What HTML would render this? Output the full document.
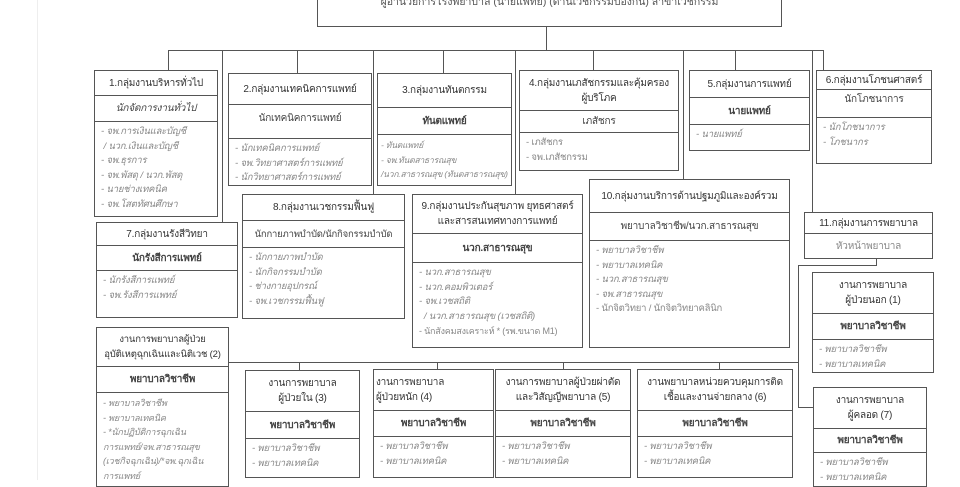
<!DOCTYPE html>
<html><head><meta charset="utf-8">
<style>
*{margin:0;padding:0;box-sizing:border-box}
body{width:960px;height:480px;overflow:hidden;background:#fff;position:relative;font-family:"Liberation Sans","DejaVu Sans",sans-serif;color:#333;font-size:10px}
.b{position:absolute;border:1.3px solid #555;background:#fff;overflow:hidden}
.h,.s{border-bottom:1.2px solid #555;display:flex;align-items:center;justify-content:center;text-align:center;line-height:15px;padding:0 2px;white-space:nowrap;letter-spacing:-0.2px;font-size:10px}
.s{font-weight:bold;color:#444}
.l{padding:3px 6px;line-height:14.5px;color:#888;font-style:italic;font-size:9.5px;white-space:nowrap;letter-spacing:-0.2px}
.v{position:absolute;width:1.2px;background:#555}
.hz{position:absolute;height:1.2px;background:#555}
</style></head><body>
<div style="position:absolute;left:37px;top:0;width:1px;height:480px;background:#eee"></div>

<div class="b" style="left:317px;top:-30px;width:465px;height:57px;">
<div style="position:absolute;top:22px;left:0;right:0;text-align:center;color:#555;font-size:10.5px">ผู้อำนวยการโรงพยาบาล (นายแพทย์) (ด้านเวชกรรมป้องกัน) สาขาเวชกรรม</div></div>

<div class="v" style="left:546px;top:27px;height:23px"></div>
<div class="hz" style="left:168px;top:50px;width:656px"></div>
<div class="v" style="left:168px;top:50px;height:20px"></div>
<div class="v" style="left:222px;top:50px;height:172px"></div>
<div class="v" style="left:297px;top:50px;height:23px"></div>
<div class="v" style="left:373px;top:50px;height:144px"></div>
<div class="v" style="left:443px;top:50px;height:23px"></div>
<div class="v" style="left:515px;top:50px;height:144px"></div>
<div class="v" style="left:593px;top:50px;height:20px"></div>
<div class="v" style="left:683px;top:50px;height:129px"></div>
<div class="v" style="left:735px;top:50px;height:20px"></div>
<div class="v" style="left:812px;top:50px;height:162px"></div>
<div class="v" style="left:823px;top:50px;height:20px"></div>

<div class="v" style="left:876px;top:258px;height:8px"></div>
<div class="hz" style="left:798px;top:265px;width:79px"></div>
<div class="v" style="left:798px;top:265px;height:143px"></div>
<div class="hz" style="left:798px;top:407px;width:15px"></div>
<div class="hz" style="left:229px;top:362px;width:570px"></div>
<div class="v" style="left:299px;top:362px;height:8px"></div>
<div class="v" style="left:437px;top:362px;height:8px"></div>
<div class="v" style="left:563px;top:362px;height:8px"></div>
<div class="v" style="left:719px;top:362px;height:8px"></div>

<div class="b" style="left:94px;top:70px;width:124px;height:147px">
<div class="h" style="height:25px">1.กลุ่มงานบริหารทั่วไป</div>
<div class="s" style="height:26px;font-style:italic;font-weight:normal">นักจัดการงานทั่วไป</div>
<div class="l">- จพ.การเงินและบัญชี<br>&nbsp;/ นวก.เงินและบัญชี<br>- จพ.ธุรการ<br>- จพ.พัสดุ / นวก.พัสดุ<br>- นายช่างเทคนิค<br>- จพ.โสตทัศนศึกษา</div></div>

<div class="b" style="left:228px;top:73px;width:144px;height:113px">
<div class="h" style="height:31px">2.กลุ่มงานเทคนิคการแพทย์</div>
<div class="s" style="height:34px;font-weight:normal;align-items:flex-start;padding-top:6px">นักเทคนิคการแพทย์</div>
<div class="l">- นักเทคนิคการแพทย์<br>- จพ.วิทยาศาสตร์การแพทย์<br>- นักวิทยาศาสตร์การแพทย์</div></div>

<div class="b" style="left:377px;top:73px;width:135px;height:113px">
<div class="h" style="height:34px">3.กลุ่มงานทันตกรรม</div>
<div class="s" style="height:27px">ทันตแพทย์</div>
<div class="l" style="font-size:8.5px;padding:3px 3px">- ทันตแพทย์<br>- จพ.ทันตสาธารณสุข<br>/นวก.สาธารณสุข (ทันตสาธารณสุข)</div></div>

<div class="b" style="left:519px;top:70px;width:160px;height:101px">
<div class="h" style="height:40px">4.กลุ่มงานเภสัชกรรมและคุ้มครอง<br>ผู้บริโภค</div>
<div class="s" style="height:22px;font-weight:normal">เภสัชกร</div>
<div class="l" style="font-style:normal">- เภสัชกร<br>- จพ.เภสัชกรรม</div></div>

<div class="b" style="left:689px;top:70px;width:121px;height:81px">
<div class="h" style="height:27px">5.กลุ่มงานการแพทย์</div>
<div class="s" style="height:27px">นายแพทย์</div>
<div class="l">- นายแพทย์</div></div>

<div class="b" style="left:816px;top:70px;width:116px;height:94px">
<div class="h" style="height:19px">6.กลุ่มงานโภชนศาสตร์</div>
<div class="s" style="height:28px;font-weight:normal;align-items:flex-start;padding-top:2px">นักโภชนาการ</div>
<div class="l">- นักโภชนาการ<br>- โภชนากร</div></div>

<div class="b" style="left:96px;top:222px;width:142px;height:96px">
<div class="h" style="height:23px">7.กลุ่มงานรังสีวิทยา</div>
<div class="s" style="height:25px">นักรังสีการแพทย์</div>
<div class="l">- นักรังสีการแพทย์<br>- จพ.รังสีการแพทย์</div></div>

<div class="b" style="left:242px;top:194px;width:163px;height:125px">
<div class="h" style="height:26px">8.กลุ่มงานเวชกรรมฟื้นฟู</div>
<div class="s" style="height:27px;font-weight:normal;font-size:9.5px">นักกายภาพบำบัด/นักกิจกรรมบำบัด</div>
<div class="l">- นักกายภาพบำบัด<br>- นักกิจกรรมบำบัด<br>- ช่างกายอุปกรณ์<br>- จพ.เวชกรรมฟื้นฟู</div></div>

<div class="b" style="left:412px;top:194px;width:171px;height:154px">
<div class="h" style="height:39px">9.กลุ่มงานประกันสุขภาพ ยุทธศาสตร์<br>และสารสนเทศทางการแพทย์</div>
<div class="s" style="height:29px">นวก.สาธารณสุข</div>
<div class="l">- นวก.สาธารณสุข<br>- นวก.คอมพิวเตอร์<br>- จพ.เวชสถิติ<br>&nbsp;&nbsp;/ นวก.สาธารณสุข (เวชสถิติ)<br><span style="font-style:normal;font-size:9px">- นักสังคมสงเคราะห์ * (รพ.ขนาด M1)</span></div></div>

<div class="b" style="left:589px;top:179px;width:201px;height:169px">
<div class="h" style="height:33px">10.กลุ่มงานบริการด้านปฐมภูมิและองค์รวม</div>
<div class="s" style="height:28px;font-weight:normal">พยาบาลวิชาชีพ/นวก.สาธารณสุข</div>
<div class="l">- พยาบาลวิชาชีพ<br>- พยาบาลเทคนิค<br>- นวก.สาธารณสุข<br>- จพ.สาธารณสุข<br><span style="font-style:normal">- นักจิตวิทยา / นักจิตวิทยาคลินิก</span></div></div>

<div class="b" style="left:804px;top:212px;width:129px;height:47px">
<div class="h" style="height:21px">11.กลุ่มงานการพยาบาล</div>
<div class="h" style="height:24px;border:none;color:#888">หัวหน้าพยาบาล</div></div>

<div class="b" style="left:812px;top:272px;width:122px;height:101px">
<div class="h" style="height:41px">งานการพยาบาล<br>ผู้ป่วยนอก (1)</div>
<div class="s" style="height:26px">พยาบาลวิชาชีพ</div>
<div class="l">- พยาบาลวิชาชีพ<br>- พยาบาลเทคนิค</div></div>

<div class="b" style="left:813px;top:387px;width:114px;height:100px">
<div class="h" style="height:41px">งานการพยาบาล<br>ผู้คลอด (7)</div>
<div class="s" style="height:24px">พยาบาลวิชาชีพ</div>
<div class="l">- พยาบาลวิชาชีพ<br>- พยาบาลเทคนิค</div></div>

<div class="b" style="left:96px;top:327px;width:133px;height:160px">
<div class="h" style="height:39px;font-size:9.5px">งานการพยาบาลผู้ป่วย<br>อุบัติเหตุฉุกเฉินและนิติเวช (2)</div>
<div class="s" style="height:26px">พยาบาลวิชาชีพ</div>
<div class="l" style="font-size:9px">- พยาบาลวิชาชีพ<br>- พยาบาลเทคนิค<br>- *นักปฏิบัติการฉุกเฉิน<br>การแพทย์/จพ.สาธารณสุข<br>(เวชกิจฉุกเฉิน)/*จพ.ฉุกเฉิน<br>การแพทย์</div></div>

<div class="b" style="left:245px;top:370px;width:115px;height:108px">
<div class="h" style="height:41px">งานการพยาบาล<br>ผู้ป่วยใน (3)</div>
<div class="s" style="height:27px">พยาบาลวิชาชีพ</div>
<div class="l">- พยาบาลวิชาชีพ<br>- พยาบาลเทคนิค</div></div>

<div class="b" style="left:373px;top:369px;width:121px;height:109px">
<div class="h" style="height:41px;justify-content:flex-start;text-align:left">งานการพยาบาล<br>ผู้ป่วยหนัก (4)</div>
<div class="s" style="height:26px">พยาบาลวิชาชีพ</div>
<div class="l">- พยาบาลวิชาชีพ<br>- พยาบาลเทคนิค</div></div>

<div class="b" style="left:495px;top:369px;width:136px;height:109px">
<div class="h" style="height:41px">งานการพยาบาลผู้ป่วยผ่าตัด<br>และวิสัญญีพยาบาล (5)</div>
<div class="s" style="height:26px">พยาบาลวิชาชีพ</div>
<div class="l">- พยาบาลวิชาชีพ<br>- พยาบาลเทคนิค</div></div>

<div class="b" style="left:637px;top:369px;width:156px;height:109px">
<div class="h" style="height:41px">งานพยาบาลหน่วยควบคุมการติด<br>เชื้อและงานจ่ายกลาง (6)</div>
<div class="s" style="height:26px">พยาบาลวิชาชีพ</div>
<div class="l">- พยาบาลวิชาชีพ<br>- พยาบาลเทคนิค</div></div>

</body></html>
